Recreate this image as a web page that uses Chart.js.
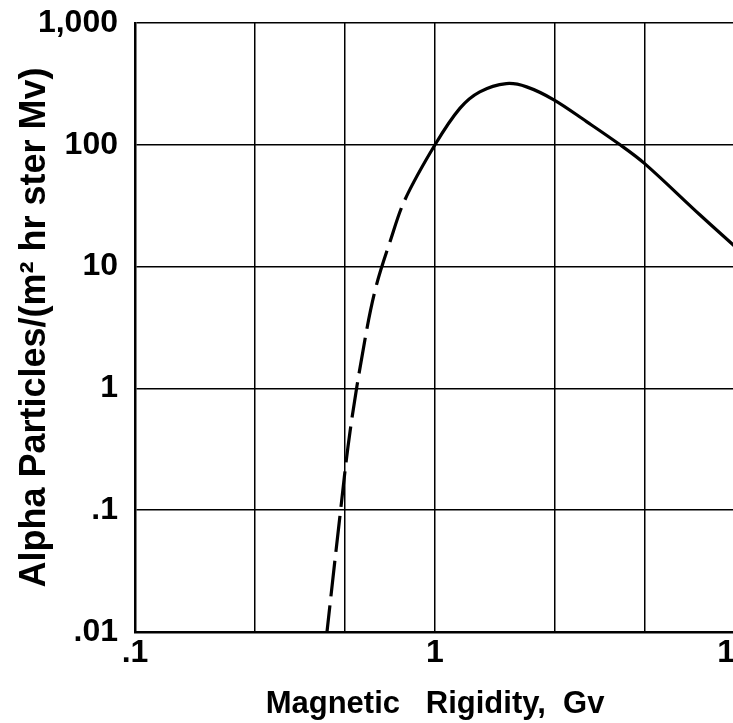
<!DOCTYPE html>
<html>
<head>
<meta charset="utf-8">
<script src="https://cdn.jsdelivr.net/npm/chart.js@4/dist/chart.umd.min.js"></script>
<style>
  html, body { margin: 0; padding: 0; background: #fff; overflow: hidden; }
  #wrap { position: absolute; left: 0; top: 0; width: 760px; height: 723px; }
</style>
</head>
<body>
<div id="wrap"><canvas id="chart" width="760" height="723"></canvas></div>
<script>
// one curve; up to DASH_END it is drawn dashed (extrapolated part)
var rigidity = [0.433, 0.479, 0.521, 0.584, 0.636, 0.708, 0.794,
                1.0, 1.21, 1.41, 1.73, 2.02, 2.49, 3.2, 4.14, 5.0, 7.65, 10];
var flux = [0.0084, 0.0778, 0.443, 2.51, 6.84, 16.0, 35.4,
            100, 199, 272, 318, 299, 234, 155, 100, 70, 26.5, 14.6];
var DASH_END = 0.794;

var xTicks = [0.1, 0.25, 0.5, 1, 2.5, 5, 10];
var xLabels = {0.1: '.1', 1: '1', 10: '10'};
var yTicks = [0.01, 0.1, 1, 10, 100, 1000];
var yLabels = {0.01: '.01', 0.1: '.1', 1: '1', 10: '10', 100: '100', 1000: '1,000'};

var pts = [];
for (var i = 0; i < rigidity.length; i++) pts.push({x: rigidity[i], y: flux[i]});

new Chart(document.getElementById('chart'), {
  type: 'line',
  data: {
    datasets: [{
      data: pts,
      borderColor: '#000',
      borderWidth: 3.2,
      pointRadius: 0,
      tension: 0.35,
      segment: {
        borderDash: function (ctx) {
          return ctx.p1.parsed.x <= DASH_END ? [36, 9] : undefined;
        }
      }
    }]
  },
  options: {
    responsive: false,
    animation: false,
    layout: { padding: { left: 0, top: 23, right: 25, bottom: 0 } },
    plugins: { legend: { display: false }, tooltip: { enabled: false } },
    scales: {
      x: {
        type: 'logarithmic',
        min: 0.1,
        max: 10,
        afterBuildTicks: function (scale) {
          scale.ticks = xTicks.map(function (v) { return {value: v}; });
        },
        afterFit: function (scale) { scale.height = 91; },
        grid: { color: '#000', lineWidth: 1.5, drawTicks: false },
        border: { color: '#000', width: 2.5 },
        ticks: {
          autoSkip: false,
          maxRotation: 0,
          padding: 2,
          color: '#000',
          font: { family: 'Liberation Sans', size: 32, weight: 'bold' },
          callback: function (v) { return xLabels[v] || ''; }
        },
        title: {
          display: true,
          text: 'Magnetic   Rigidity,  Gv',
          color: '#000',
          padding: { top: 0, bottom: 0 },
          font: { family: 'Liberation Sans', size: 31, weight: 'bold' }
        }
      },
      y: {
        type: 'logarithmic',
        min: 0.01,
        max: 1000,
        afterBuildTicks: function (scale) {
          scale.ticks = yTicks.map(function (v) { return {value: v}; });
        },
        afterFit: function (scale) {
          scale.width = 135;
          scale.paddingTop = 0;
          scale.paddingBottom = 0;
        },
        grid: { color: '#000', lineWidth: 1.5, drawTicks: false },
        border: { color: '#000', width: 2.5 },
        ticks: {
          autoSkip: false,
          padding: 17,
          color: '#000',
          font: { family: 'Liberation Sans', size: 32, weight: 'bold' },
          callback: function (v) { return yLabels[v] || ''; }
        },
        title: {
          display: true,
          text: 'Alpha Particles/(m\u00b2 hr ster Mv)',
          color: '#000',
          padding: { top: 13, bottom: 0 },
          font: { family: 'Liberation Sans', size: 36, weight: 'bold' }
        }
      }
    }
  }
});
</script>
</body>
</html>
